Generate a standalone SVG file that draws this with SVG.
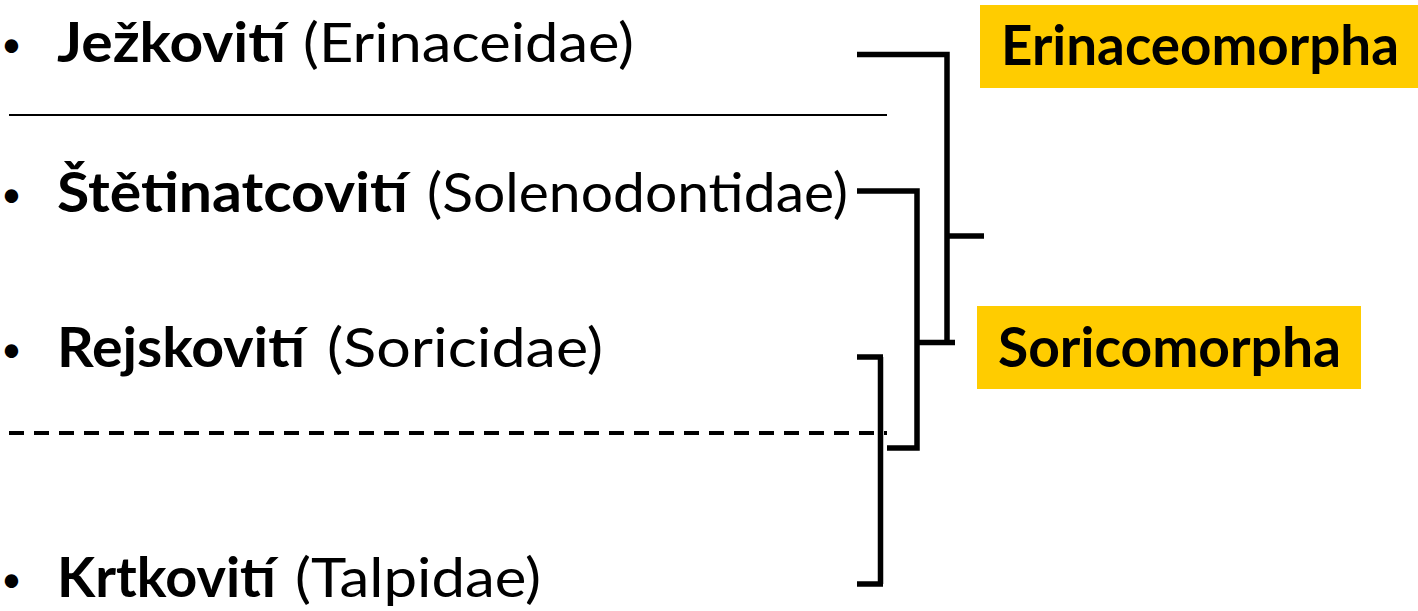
<svg xmlns="http://www.w3.org/2000/svg" width="1418" height="611" viewBox="0 0 1418 611">
<style>
  text { font-family: Lato, "Open Sans", "DejaVu Sans", sans-serif; font-size: 55px; fill: #000; }
  .b { font-weight: 700; }
  .r { font-weight: 400; }
  .bul { font-size: 36px; font-weight: 400; }
  .conn { fill: none; stroke: #000; stroke-width: 5.5; stroke-linejoin: miter; stroke-linecap: butt; }
  .label-box { fill: #FFCC00; }
</style>
<rect width="1418" height="611" fill="#fff"/>

<g id="separators">
  <line x1="9" y1="115" x2="887" y2="115" stroke="#000" stroke-width="2"/>
  <line x1="9" y1="433" x2="887" y2="433" stroke="#000" stroke-width="4" stroke-dasharray="15 10"/>
</g>

<g id="node-erinaceidae">
  <text class="bul" x="1" y="57">•</text>
  <text class="b" x="57" y="62" textLength="229" lengthAdjust="spacingAndGlyphs">Ježkovití</text>
  <text class="r" x="303" y="62" textLength="331" lengthAdjust="spacingAndGlyphs">(Erinaceidae)</text>
</g>

<g id="node-solenodontidae">
  <text class="bul" x="1" y="207">•</text>
  <text class="b" x="57" y="212" textLength="351" lengthAdjust="spacingAndGlyphs">Štětinatcovití</text>
  <text class="r" x="427" y="212" textLength="421" lengthAdjust="spacingAndGlyphs">(Solenodontidae)</text>
</g>

<g id="node-soricidae">
  <text class="bul" x="1" y="362">•</text>
  <text class="b" x="57" y="367" textLength="248" lengthAdjust="spacingAndGlyphs">Rejskovití</text>
  <text class="r" x="327" y="367" textLength="276" lengthAdjust="spacingAndGlyphs">(Soricidae)</text>
</g>

<g id="node-talpidae">
  <text class="bul" x="1" y="592">•</text>
  <text class="b" x="57" y="597" textLength="219" lengthAdjust="spacingAndGlyphs">Krtkovití</text>
  <text class="r" x="295" y="597" textLength="246" lengthAdjust="spacingAndGlyphs">(Talpidae)</text>
</g>

<g id="node-erinaceomorpha">
  <rect class="label-box" x="980" y="5" width="438" height="83"/>
  <text class="b" x="1001" y="65" textLength="398" lengthAdjust="spacingAndGlyphs">Erinaceomorpha</text>
</g>

<g id="node-soricomorpha">
  <rect class="label-box" x="977" y="306" width="384" height="83"/>
  <text class="b" x="998" y="367" textLength="343" lengthAdjust="spacingAndGlyphs">Soricomorpha</text>
</g>

<g id="connectors">
  <path class="conn" d="M857 54.5 H947 V342.5"/>
  <path class="conn" d="M917 342.5 H955"/>
  <path class="conn" d="M947 236 H984"/>
  <path class="conn" d="M857 191 H917 V448 H887"/>
  <path class="conn" d="M857 357 H883 M880.5 357 V584 M857 584 H883"/>
</g>
</svg>
